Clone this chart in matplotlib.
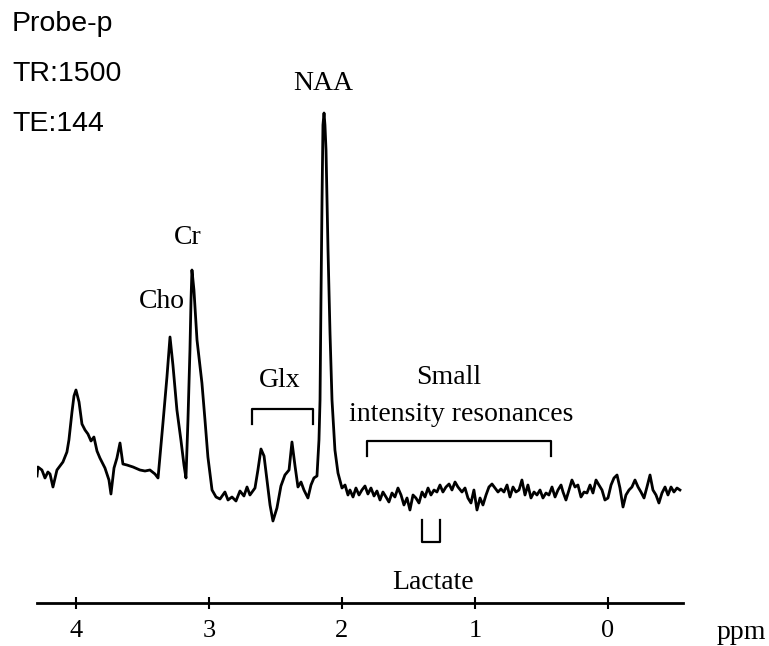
## 1H MR spectrum (Probe-p, TR 1500 / TE 144) with peak labels
import numpy as np
import matplotlib.pyplot as plt

## ------------ spectrum ------------
ppm = [
    4.293, 4.286, 4.256, 4.233, 4.211, 4.195, 4.173, 4.143, 4.098,
    4.068, 4.053, 4.030, 4.015, 4.000, 3.977, 3.955, 3.932, 3.910, 3.887,
    3.865, 3.842, 3.820, 3.782, 3.752, 3.737, 3.714, 3.692, 3.669, 3.647,
    3.617, 3.571, 3.519, 3.481, 3.444, 3.406, 3.383, 3.346, 3.316, 3.293,
    3.271, 3.241, 3.211, 3.188, 3.173, 3.158, 3.143, 3.135, 3.128, 3.113,
    3.090, 3.053, 3.030, 3.008, 2.977, 2.947, 2.917, 2.880, 2.857, 2.827,
    2.797, 2.767, 2.737, 2.714, 2.692, 2.654, 2.632, 2.609, 2.586, 2.564,
    2.541, 2.519, 2.489, 2.459, 2.429, 2.398, 2.376, 2.353, 2.331, 2.308,
    2.286, 2.256, 2.233, 2.211, 2.188, 2.173, 2.165, 2.158, 2.150, 2.143,
    2.135, 2.128, 2.120, 2.105, 2.090, 2.075, 2.053, 2.030, 2.000,
    1.977, 1.955, 1.940, 1.917, 1.895, 1.872, 1.850, 1.827, 1.805, 1.782,
    1.759, 1.737, 1.714, 1.692, 1.669, 1.647, 1.624, 1.602, 1.579, 1.556,
    1.534, 1.511, 1.489, 1.466, 1.444, 1.421, 1.398, 1.376, 1.353, 1.331,
    1.308, 1.286, 1.263, 1.241, 1.218, 1.195, 1.173, 1.150, 1.128, 1.098,
    1.075, 1.053, 1.030, 1.008, 0.985, 0.962, 0.940, 0.917, 0.895, 0.872,
    0.850, 0.827, 0.805, 0.782, 0.759, 0.737, 0.714, 0.692, 0.669, 0.647,
    0.624, 0.602, 0.579, 0.556, 0.534, 0.511, 0.489, 0.466, 0.444, 0.421,
    0.398, 0.376, 0.353, 0.338, 0.316, 0.293, 0.271, 0.248, 0.226, 0.203,
    0.180, 0.158, 0.135, 0.113, 0.090, 0.068, 0.045, 0.023, 0.000, -0.023,
    -0.045, -0.068, -0.090, -0.113, -0.135, -0.158, -0.180, -0.203, -0.226, -0.248,
    -0.271, -0.293, -0.316, -0.338, -0.361, -0.383, -0.406, -0.429, -0.451, -0.474,
    -0.496, -0.519, -0.541,
]
signal = [
    24, 33, 30, 22, 28, 26, 13, 30, 38,
    48, 60, 88, 104, 110, 98, 76, 70, 66, 59,
    63, 49, 42, 32, 20, 6, 32, 42, 57, 36,
    35, 33, 30, 29, 30, 26, 22, 77, 123, 163,
    135, 90, 60, 35, 22, 80, 150, 200, 230, 210,
    160, 117, 80, 43, 10, 3, 1, 8, 0, 3,
    -1, 9, 4, 13, 5, 12, 30, 51, 44, 20,
    -5, -21, -8, 14, 25, 30, 58, 34, 13, 18,
    10, 2, 15, 22, 24, 60, 100, 200, 300, 375,
    387, 375, 350, 250, 167, 100, 50, 27, 12,
    15, 5, 10, 3, 12, 5, 10, 14, 6, 12,
    4, 9, 0, 8, 3, -2, 7, 3, 12, 5,
    -5, 2, -10, 5, 2, -3, 8, 3, 12, 5,
    10, 8, 15, 8, 13, 16, 10, 18, 13, 8,
    12, 2, -3, 10, -10, 2, -5, 5, 13, 16,
    12, 8, 11, 8, 15, 3, 13, 8, 10, 20,
    5, 15, 2, 8, 5, 10, 2, 7, 5, 13,
    3, 10, 15, 8, 0, 10, 20, 13, 15, 3,
    8, 7, 15, 7, 20, 15, 10, 0, 2, 15,
    22, 25, 12, -7, 5, 10, 13, 20, 13, 8,
    2, 13, 25, 10, 5, -3, 7, 13, 5, 13,
    8, 12, 10,
]

## annotation ranges (ppm)
glx_range = [2.677, 2.218]
small_range = [1.812, 0.429]
lactate_range = [1.398, 1.263]

tick_ppm = [4, 3, 2, 1, 0]
tick_labels = ['4', '3', '2', '1', '0']
header_lines = ['Probe-p', 'TR:1500', 'TE:144']
## --------------------------------------------------------

W, H = 769, 646
fig = plt.figure(figsize=(W / 100, H / 100), dpi=100)
ax = fig.add_axes([37 / W, 43 / H, 646 / W, 603 / H])

ax.plot(ppm, signal, color='black', lw=2.0, solid_joinstyle='round')

ax.set_xlim(4.293, -0.564)
ax.set_ylim(-103, 500)

for side in ['top', 'right', 'left']:
    ax.spines[side].set_visible(False)
ax.spines['bottom'].set_linewidth(2.0)
ax.set_yticks([])
ax.set_xticks(tick_ppm)
ax.set_xticklabels(tick_labels, family='Liberation Serif', fontsize=19)
ax.tick_params(axis='x', direction='inout', length=8, width=1.5, pad=8)

serif = dict(family='Liberation Serif', fontsize=20, color='black')
ax.text(2.143, 410, 'NAA', ha='center', va='baseline', **serif)
ax.text(3.158, 256, 'Cr', ha='center', va='baseline', **serif)
ax.text(3.180, 192, 'Cho', ha='right', va='baseline', **serif)
ax.text(2.466, 113, 'Glx', ha='center', va='baseline', **serif)
ax.text(1.195, 116, 'Small', ha='center', va='baseline', **serif)
ax.text(1.105, 79, 'intensity resonances', ha='center', va='baseline', **serif)
ax.text(1.316, -89, 'Lactate', ha='center', va='baseline', **serif)
ax.text(-0.82, -139, 'ppm', ha='left', va='baseline', clip_on=False, **serif)

## brackets
bk = dict(color='black', lw=1.6)
ax.plot([glx_range[0], glx_range[0], glx_range[1], glx_range[1]], [76, 91, 91, 76], **bk)
ax.plot([small_range[0], small_range[0], small_range[1], small_range[1]], [44, 59, 59, 44], **bk)
ax.plot([lactate_range[0], lactate_range[0], lactate_range[1], lactate_range[1]], [-20, -42, -42, -20], **bk)

## header text
for i, line in enumerate(header_lines):
    fig.text(12 / W, 1 - (31 + 50 * i) / H, line, ha='left', va='baseline',
             family='Liberation Sans', fontsize=20.5)

fig.savefig('out.png', dpi=100)
